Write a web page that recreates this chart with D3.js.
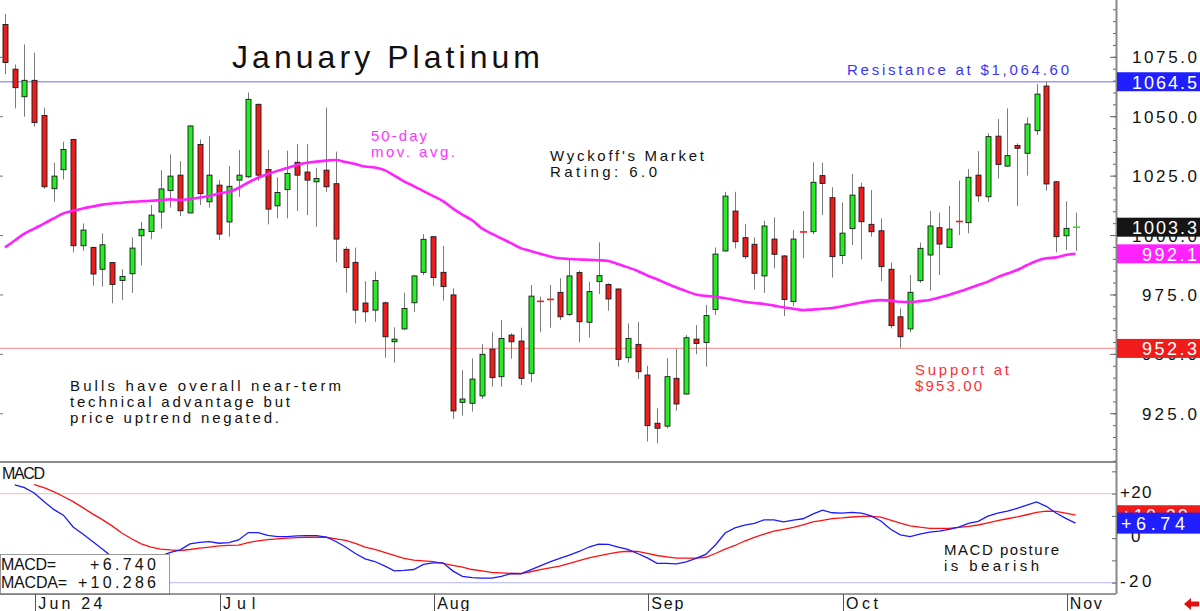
<!DOCTYPE html>
<html>
<head>
<meta charset="utf-8">
<script src="https://cdn.jsdelivr.net/npm/d3@7"></script>
<style>
  body { margin: 0; background: #fff; }
  svg { display: block; font-family: "Liberation Sans", Arial, sans-serif; }
</style>
</head>
<body>
<div id="chart"></div>
<script>
// daily candles, index 0 = May 29 2024 ... 110 = Nov 4 2024
const openP = [1088.6,1069.8,1058.2,1065.1,1050.3,1019.5,1027.5,1040.2,995.5,994.8,
  985.6,988.4,980.9,983.7,999.7,1001.5,1009.7,1018.7,1025.2,1009.3,
  1038.1,1014.0,1021.0,1005.5,1023.1,1024.5,1055.0,1027.6,1012.3,1019.1,
  1030.6,1026.5,1022.4,1027.3,1021.6,994.0,988.5,971.4,968.4,971.5,
  955.1,960.5,971.5,984.3,999.3,984.3,974.8,929.6,929.2,932.3,
  952.0,940.4,957.9,955.4,941.8,972.2,973.1,975.9,966.6,984.2,
  963.3,980.4,979.2,977.3,948.4,954.0,941.1,920.8,919.6,939.7,
  933.1,956.2,954.8,968.7,993.3,1010.1,998.9,996.1,982.8,998.3,
  991.2,972.0,1001.4,1001.4,1025.0,1015.7,991.4,1002.7,1020.1,1004.5,
  1001.8,985.6,965.6,960.5,980.8,991.6,1003.1,994.8,1005.9,1005.2,
  1025.2,1016.1,1041.6,1029.0,1037.7,1034.4,1043.9,1062.7,1022.4,999.7,
  1003.1];
const highP = [1093.0,1071.8,1080.2,1076.7,1053.6,1030.4,1039.3,1040.5,1004.9,995.1,
  1000.7,988.6,985.6,999.0,1005.5,1012.6,1027.3,1033.9,1031.1,1046.3,
  1040.2,1041.6,1023.1,1029.0,1035.8,1060.0,1055.3,1035.8,1024.3,1035.5,
  1038.3,1038.3,1028.3,1053.6,1035.1,995.1,994.7,980.6,984.6,972.0,
  961.2,975.7,983.2,1000.4,999.6,995.4,977.6,943.2,948.1,954.1,
  959.1,964.2,958.6,961.0,979.0,974.1,979.0,981.8,989.5,985.0,
  980.4,996.9,979.7,977.5,962.8,963.5,945.0,927.1,948.1,952.0,
  957.9,962.1,970.6,994.8,1018.2,1018.2,1004.6,999.0,1006.0,1007.4,
  991.5,1002.1,1010.1,1030.6,1030.4,1020.1,1013.6,1025.7,1022.0,1018.9,
  1007.0,988.4,969.1,983.2,996.8,1010.1,1009.4,1012.3,1022.9,1027.8,
  1035.3,1042.8,1048.8,1053.3,1038.6,1049.5,1063.5,1064.5,1022.7,1014.2,
  1009.4];
const lowP = [1067.7,1053.3,1049.8,1045.6,1019.5,1014.0,1023.4,992.7,993.4,978.7,
  978.3,971.3,972.7,975.7,987.2,998.2,1002.7,1011.5,1008.0,1009.1,
  1012.6,1011.5,997.9,999.3,1016.1,1024.0,1022.9,1004.5,1007.0,1007.0,
  1010.1,1008.4,1003.5,1018.2,988.5,975.7,962.8,963.3,963.5,948.4,
  946.3,960.0,967.7,983.2,978.5,972.4,922.6,924.0,925.7,931.0,
  936.2,936.2,948.0,936.9,938.0,959.1,961.0,964.2,965.9,954.8,
  956.9,975.2,968.2,944.6,946.3,939.4,913.1,912.4,918.7,926.1,
  933.0,949.8,944.6,966.3,993.0,994.4,989.9,977.1,975.7,986.0,
  965.9,970.1,990.2,1000.3,1008.4,982.1,987.7,995.8,989.8,999.3,
  980.6,960.7,952.6,959.1,979.9,976.6,983.2,994.4,1000.0,1000.7,
  1014.0,1014.0,1023.8,1028.7,1012.2,1025.0,1042.1,1018.7,992.7,993.7,
  993.3];
const closeP = [1072.6,1062.0,1065.1,1047.3,1020.3,1024.8,1036.0,995.5,1002.1,983.6,
  995.9,979.2,982.6,994.5,1002.4,1008.4,1019.4,1024.8,1010.2,1045.9,
  1017.4,1025.2,1000.4,1020.5,1025.2,1057.1,1025.2,1010.9,1017.9,1025.9,
  1025.2,1023.1,1023.8,1020.3,998.3,986.3,968.4,967.7,980.9,957.2,
  956.2,969.1,982.8,998.2,982.1,978.3,926.0,931.0,939.4,949.8,
  940.0,956.5,955.1,939.7,974.3,972.1,972.9,965.6,982.8,963.5,
  976.2,982.9,973.1,947.7,956.5,942.5,919.8,918.7,940.4,928.9,
  956.8,954.4,966.1,992.0,1016.4,997.2,990.9,983.9,1003.8,991.9,
  972.9,998.3,1001.3,1022.2,1021.7,990.9,1000.8,1016.8,1005.6,1001.4,
  986.7,961.9,957.2,975.9,994.4,1003.8,996.2,1002.5,1005.7,1024.3,
  1016.5,1041.4,1029.7,1033.4,1036.5,1046.7,1059.3,1021.5,999.3,1002.8,
  1003.3];

// 50-day moving average
const ma50 = [994.8,997.7,1000.6,1002.7,1004.8,1007.0,1009.1,1010.2,1011.2,1012.0,
  1012.8,1013.3,1013.6,1014.0,1014.2,1014.4,1014.7,1015.0,1014.7,1015.1,
  1015.8,1016.4,1017.5,1018.2,1019.8,1022.1,1024.1,1025.7,1027.0,1028.2,
  1029.5,1030.4,1030.9,1031.3,1031.6,1030.7,1029.9,1028.8,1028.4,1027.3,
  1025.0,1022.6,1020.6,1018.5,1016.4,1014.3,1011.2,1008.6,1006.2,1002.8,
  1000.6,998.6,996.6,994.5,993.3,992.1,991.0,990.2,989.9,989.7,
  989.6,989.4,989.1,987.8,986.4,984.9,983.0,981.4,979.6,977.9,
  976.4,975.0,974.4,974.1,973.4,972.7,971.9,971.4,971.0,970.3,
  969.6,969.0,968.4,968.6,969.0,969.3,970.0,970.8,971.6,972.3,
  972.6,972.4,971.9,971.8,972.2,972.7,973.7,974.8,976.1,977.5,
  979.0,980.4,982.3,983.8,985.3,987.3,989.1,990.2,990.6,991.6,
  992.1];

// MACD (blue) and MACDA signal (red)
const macd = [null,23.9,22.7,20.3,16.5,12.9,10.3,5.0,1.9,-1.5,
  -4.9,-8.4,-9.8,-10.7,-10.7,-9.8,-8.0,-6.4,-5.3,-2.6,
  -1.9,-1.6,-2.3,-2.0,-0.8,2.5,2.5,1.2,0.7,0.7,
  1.0,1.1,1.1,0.5,-1.5,-4.0,-6.9,-9.3,-10.5,-12.5,
  -14.7,-14.5,-14.1,-11.8,-11.1,-11.1,-14.7,-17.2,-17.7,-18.0,
  -18.0,-17.2,-15.9,-16.1,-14.3,-12.5,-10.7,-9.1,-7.6,-6.0,
  -4.0,-2.7,-2.8,-4.0,-5.1,-6.9,-8.9,-11.3,-11.3,-11.6,
  -10.7,-9.1,-7.3,-3.1,2.3,4.6,5.8,6.6,8.2,8.2,
  7.3,8.1,8.7,10.8,12.6,11.4,11.2,11.6,11.2,10.0,
  7.7,4.0,1.5,0.7,1.8,2.7,3.1,3.9,4.9,6.6,
  7.5,9.9,11.2,12.1,13.4,14.8,16.3,14.3,11.3,8.9,
  6.74];
const macdA = [null,null,null,24.0,22.7,20.9,18.7,16.4,13.7,10.9,
  8.3,5.5,2.3,-0.3,-2.6,-4.0,-4.9,-5.3,-5.6,-5.1,
  -4.5,-4.0,-3.5,-3.3,-3.1,-2.0,-1.2,-0.7,-0.3,0.0,
  0.2,0.4,0.4,0.4,-0.3,-1.0,-2.4,-4.0,-5.1,-6.4,
  -7.8,-9.1,-9.9,-10.2,-10.6,-11.3,-12.2,-13.0,-14.1,-14.7,
  -15.4,-15.6,-15.9,-15.9,-15.1,-14.2,-13.4,-12.6,-11.3,-10.1,
  -8.9,-8.0,-7.1,-6.3,-5.9,-6.0,-6.9,-7.8,-8.4,-9.0,
  -9.0,-9.0,-8.6,-6.9,-4.9,-3.3,-1.3,0.3,1.8,3.1,
  3.9,4.8,6.0,7.3,8.0,8.8,9.1,9.5,9.8,9.8,
  9.4,8.1,6.7,5.5,4.9,4.4,4.4,4.4,4.8,5.3,
  5.9,6.9,7.9,8.7,9.5,10.5,11.6,12.1,12.0,11.2,
  10.286];

// month ticks (candle index where each month starts)
const monthLabels = ["Jun 24", "Jul", "Aug", "Sep", "Oct", "Nov"];
const monthIndex = [3, 22, 44, 66, 86, 109];

const priceLabels = [925, 950, 975, 1000, 1025, 1050, 1075];
const macdTickValues = [20, 0, -20];
const macdTickLabels = ["+20", "0", "-20"];

const resistance = 1064.5, support = 952.3, lastPrice = 1003.3, lastMA = 992.1;

const width = 1200, height = 611;
const axisX = 1116;
const mainBottom = 462, macdBottom = 594;
const green = "#22ee22", red = "#ee1c1c";

const svg = d3.select("#chart")
  .append("svg")
  .attr("width", width).attr("height", height)
  .attr("viewBox", `0 0 ${width} ${height}`);

svg.append("rect").attr("width", width).attr("height", height).attr("fill", "#fff");

const x = d3.scaleLinear().domain([0, 110]).range([5, 1075.5]);
const y = d3.scaleLinear().domain([904.5, 1098.9]).range([mainBottom, 0]);
const yM = d3.scaleLinear().domain([-25.1, 34.2]).range([macdBottom, mainBottom]);

const defs = svg.append("defs");
defs.append("clipPath").attr("id", "clipMain")
  .append("rect").attr("x", 0).attr("y", 0).attr("width", axisX).attr("height", mainBottom);
defs.append("clipPath").attr("id", "clipMacd")
  .append("rect").attr("x", 0).attr("y", mainBottom + 1).attr("width", axisX).attr("height", macdBottom - mainBottom - 1);

// text helper: letters spread out to the width seen in the picture
function note(g, str, x0, y0, w, color, size, anchor) {
  return g.append("text")
    .attr("x", x0).attr("y", y0)
    .attr("fill", color).attr("font-size", size)
    .attr("text-anchor", anchor || "start")
    .attr("textLength", w).attr("lengthAdjust", "spacing")
    .text(str);
}

// ---------- price panel ----------
const main = svg.append("g").attr("clip-path", "url(#clipMain)");

// resistance / support lines
main.append("line").attr("x1", 0).attr("x2", axisX)
  .attr("y1", y(resistance)).attr("y2", y(resistance))
  .attr("stroke", "#9a9aff").attr("stroke-width", 1.3);
main.append("line").attr("x1", 0).attr("x2", axisX)
  .attr("y1", y(support)).attr("y2", y(support))
  .attr("stroke", "#ff9a9a").attr("stroke-width", 1.3);

const candles = d3.range(openP.length).map(i => ({
  i, o: openP[i], h: highP[i], l: lowP[i], c: closeP[i]
}));

// wicks
main.append("g").selectAll("line")
  .data(candles)
  .join("line")
    .attr("x1", d => Math.round(x(d.i)) + 0.5)
    .attr("x2", d => Math.round(x(d.i)) + 0.5)
    .attr("y1", d => y(d.h))
    .attr("y2", d => y(d.l))
    .attr("stroke", "#7a7a7a").attr("stroke-width", 1);

// bodies
const flat = d => Math.abs(y(d.o) - y(d.c)) < 1.5;
main.append("g").selectAll("rect")
  .data(candles.filter(d => !flat(d)))
  .join("rect")
    .attr("x", d => Math.round(x(d.i)) - 2)
    .attr("y", d => y(Math.max(d.o, d.c)))
    .attr("width", 5)
    .attr("height", d => Math.abs(y(d.o) - y(d.c)))
    .attr("fill", d => d.c >= d.o ? green : red)
    .attr("stroke", "#1a1a1a").attr("stroke-width", 0.9);

main.append("g").selectAll("line")
  .data(candles.filter(flat))
  .join("line")
    .attr("x1", d => Math.round(x(d.i)) - 3)
    .attr("x2", d => Math.round(x(d.i)) + 4)
    .attr("y1", d => y(d.c)).attr("y2", d => y(d.c))
    .attr("stroke", d => d.c >= d.o ? green : red).attr("stroke-width", 1.6);

// 50-day moving average
main.append("path")
  .datum(ma50)
  .attr("fill", "none")
  .attr("stroke", "#ff22ff").attr("stroke-width", 2.6)
  .attr("d", d3.line().x((d, i) => x(i)).y(d => y(d)).curve(d3.curveMonotoneX));

// annotations
const ann = svg.append("g");
note(ann, "January Platinum", 232, 68, 308, "#111", 32);
note(ann, "Resistance at $1,064.60", 847, 75, 222, "#3535ff", 15);
note(ann, "50-day", 371, 141, 56, "#ff33ff", 15);
note(ann, "mov. avg.", 371, 157, 84, "#ff33ff", 15);
note(ann, "Wyckoff's Market", 550, 161, 154, "#111", 15);
note(ann, "Rating: 6.0", 550, 177, 107, "#111", 15);
note(ann, "Bulls have overall near-term", 70, 391, 271, "#111", 15);
note(ann, "technical advantage but", 70, 407, 220, "#111", 15);
note(ann, "price uptrend negated.", 70, 423, 209, "#111", 15);
note(ann, "Support at", 915, 375, 94, "#ff3030", 15);
note(ann, "$953.00", 915, 391, 67, "#ff3030", 15);

// ---------- MACD panel ----------
const mp = svg.append("g").attr("clip-path", "url(#clipMacd)");
mp.append("line").attr("x1", 0).attr("x2", axisX)
  .attr("y1", yM(20)).attr("y2", yM(20))
  .attr("stroke", "#ffc4c4").attr("stroke-width", 1.2);
mp.append("line").attr("x1", 0).attr("x2", axisX)
  .attr("y1", yM(-20)).attr("y2", yM(-20))
  .attr("stroke", "#c4c4ff").attr("stroke-width", 1.2);

const mline = d3.line()
  .defined(d => d != null)
  .x((d, i) => x(i)).y(d => yM(d));
mp.append("path").datum(macdA)
  .attr("fill", "none").attr("stroke", "#ff1010").attr("stroke-width", 1.3)
  .attr("d", mline);
mp.append("path").datum(macd)
  .attr("fill", "none").attr("stroke", "#1a1aff").attr("stroke-width", 1.3)
  .attr("d", mline);

note(svg, "MACD", 2, 479, 43, "#111", 16);
note(svg, "MACD posture", 944, 555, 115, "#111", 15);
note(svg, "is bearish", 944, 571, 95, "#111", 15);

// readout box
svg.append("rect").attr("x", 0.5).attr("y", 554.5).attr("width", 169).attr("height", 40)
  .attr("fill", "#fff").attr("stroke", "#999");
note(svg, "MACD=", 1, 570, 55, "#111", 16);
note(svg, "+6.740", 156, 570, 66, "#111", 16, "end");
note(svg, "MACDA=", 1, 588, 66, "#111", 16);
note(svg, "+10.286", 156, 588, 78, "#111", 16, "end");

// ---------- frame & axes ----------
svg.append("line").attr("x1", 0).attr("x2", axisX).attr("y1", mainBottom).attr("y2", mainBottom)
  .attr("stroke", "#666").attr("stroke-width", 1.5);
svg.append("line").attr("x1", 0).attr("x2", axisX).attr("y1", macdBottom).attr("y2", macdBottom)
  .attr("stroke", "#777").attr("stroke-width", 1.5);
svg.append("line").attr("x1", axisX + 0.5).attr("x2", axisX + 0.5).attr("y1", 0).attr("y2", macdBottom)
  .attr("stroke", "#888").attr("stroke-width", 2);

// price axis ticks (minor every 5, major every 25)
const priceAxis = svg.append("g").attr("transform", `translate(${axisX},0)`);
priceAxis.append("g")
  .call(d3.axisRight(y).tickValues(d3.range(905, 1100, 5)).tickSize(-3).tickFormat(""))
  .call(g => g.select(".domain").remove())
  .call(g => g.selectAll("line").attr("stroke", "#666"));
priceAxis.append("g")
  .call(d3.axisRight(y).tickValues(priceLabels).tickSize(-6).tickFormat(d3.format(".1f")))
  .call(g => g.select(".domain").remove())
  .call(g => g.selectAll("line").attr("stroke", "#666"))
  .call(g => g.selectAll("text")
    .attr("x", 81).attr("dy", "0.36em")
    .attr("text-anchor", "end")
    .attr("font-family", "Liberation Sans, Arial, sans-serif")
    .attr("font-size", 17).attr("fill", "#111")
    .attr("textLength", d => d >= 1000 ? 65 : 55)
    .attr("lengthAdjust", "spacing"));

// left edge small ticks
svg.append("g")
  .call(d3.axisRight(y).tickValues(priceLabels).tickSize(3).tickFormat(""))
  .call(g => g.select(".domain").remove())
  .call(g => g.selectAll("line").attr("stroke", "#777"));

// MACD axis
const macdAxis = svg.append("g").attr("transform", `translate(${axisX},0)`);
macdAxis.append("g")
  .call(d3.axisRight(yM).tickValues([-20, -10, 0, 10, 20, 30]).tickSize(-4).tickFormat(""))
  .call(g => g.select(".domain").remove())
  .call(g => g.selectAll("line").attr("stroke", "#666"));
macdAxis.selectAll("text.mlab")
  .data(macdTickValues)
  .join("text")
    .attr("class", "mlab")
    .attr("x", (d, i) => macdTickLabels[i] === "0" ? 15 : 4)
    .attr("y", d => yM(d) + 4)
    .attr("font-size", 17).attr("fill", "#111")
    .attr("textLength", (d, i) => macdTickLabels[i].length * 10.5)
    .attr("lengthAdjust", "spacing")
    .text((d, i) => macdTickLabels[i]);

// date axis
const dateAxis = svg.append("g");
dateAxis.selectAll("line")
  .data(monthIndex)
  .join("line")
    .attr("x1", d => Math.round(x(d)) + 1.5).attr("x2", d => Math.round(x(d)) + 1.5)
    .attr("y1", macdBottom).attr("y2", height)
    .attr("stroke", "#555").attr("stroke-width", 1);
dateAxis.selectAll("text")
  .data(monthIndex)
  .join("text")
    .attr("x", d => x(d) + 4)
    .attr("y", 609)
    .attr("font-size", 16).attr("fill", "#111")
    .attr("textLength", (d, i) => monthLabels[i].length * 10.7)
    .attr("lengthAdjust", "spacing")
    .text((d, i) => monthLabels[i]);

// value boxes on the right
function valueBox(ys, val, txt, fill, opts = {}) {
  const h = opts.h || 19;
  const cy = ys(val);
  svg.append("rect")
    .attr("x", axisX + 1).attr("y", cy - h / 2)
    .attr("width", width - axisX - 1).attr("height", h)
    .attr("fill", fill);
  svg.append("text")
    .attr("x", opts.x || 1197).attr("y", cy + 7)
    .attr("text-anchor", opts.anchor || "end")
    .attr("font-size", 18).attr("fill", "#fff")
    .attr("textLength", opts.w || (txt.length >= 6 ? 65 : 55))
    .attr("lengthAdjust", "spacing")
    .text(txt);
}
valueBox(y, resistance, "1064.5", "#1f1fff");
valueBox(y, lastPrice, "1003.3", "#151515");
valueBox(y, lastMA, "992.1", "#ff22ff");
valueBox(y, support, "952.3", "#f01c1c");
valueBox(yM, 10.286, "+10.29", "#f01c1c", { h: 20, x: 1121, anchor: "start", w: 67 });
valueBox(yM, 6.74, "+6.74", "#1f1fff", { h: 21, x: 1121, anchor: "start", w: 64 });

// little red arrow bottom-right
svg.append("path")
  .attr("d", "M1184,604 L1191,598 L1191,601.5 L1199,601.5 L1199,606.5 L1191,606.5 L1191,610 Z")
  .attr("fill", "#e01010");
</script>
</body>
</html>
